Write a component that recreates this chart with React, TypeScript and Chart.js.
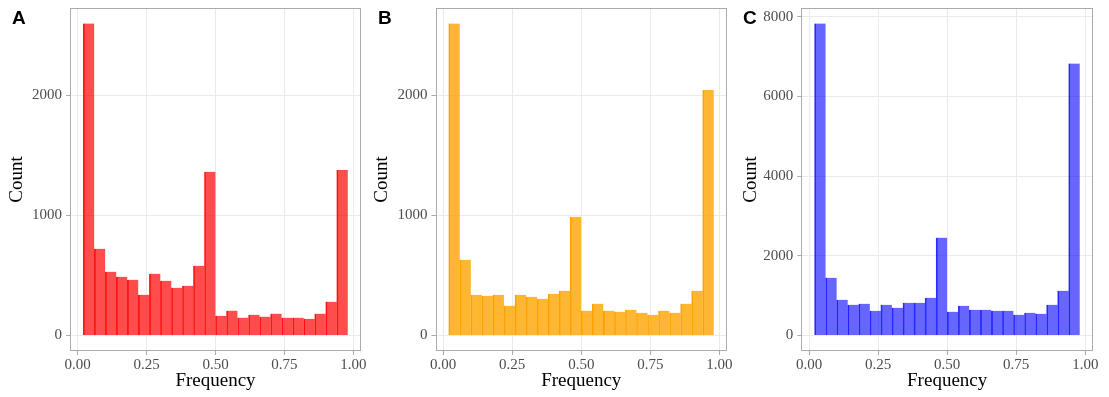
import React, { useEffect, useRef } from "react";
import { Chart, registerables } from "chart.js";

Chart.register(...registerables);

// Bin centers (histogram, bin width 0.04)
const binCenters = [
  0.04, 0.08, 0.12, 0.16, 0.2, 0.24, 0.28, 0.32, 0.36, 0.4, 0.44, 0.48,
  0.52, 0.56, 0.6, 0.64, 0.68, 0.72, 0.76, 0.8, 0.84, 0.88, 0.92, 0.96,
];

const countsA = [
  2600, 722, 531, 489, 464, 339, 514, 456, 397, 414, 581, 1364,
  164, 206, 148, 172, 156, 181, 148, 148, 139, 181, 281, 1380,
];
const countsB = [
  2600, 631, 339, 331, 339, 248, 339, 322, 306, 347, 372, 989,
  206, 264, 206, 197, 214, 189, 172, 206, 189, 264, 372, 2047,
];
const countsC = [
  7832, 1447, 894, 769, 794, 618, 769, 694, 819, 819, 945, 2455,
  593, 744, 643, 643, 618, 618, 518, 568, 543, 769, 1120, 6827,
];

const xTicks = [0, 0.25, 0.5, 0.75, 1.0];
const yTicksAB = [0, 1000, 2000];
const yTicksC = [0, 2000, 4000, 6000, 8000];

const panelLabels = ["A", "B", "C"];
const xTitle = "Frequency";
const yTitle = "Count";

const SERIF = "'Liberation Serif', 'Times New Roman', serif";

type PanelSpec = {
  label: string;
  data: number[];
  yTicks: number[];
  fill: string;
  edge: string;
  left: number;
  width: number;
  axisW: number;
  padRight: number;
  titlePad: number;
  labelLeft: number;
};

const H = 397;

const panels: PanelSpec[] = [
  {
    label: panelLabels[0], data: countsA, yTicks: yTicksAB,
    fill: "rgba(255,0,0,0.7)", edge: "rgba(255,0,0,0.9)",
    left: 0, width: 369, axisW: 70, padRight: 8, titlePad: 5.6, labelLeft: 12,
  },
  {
    label: panelLabels[1], data: countsB, yTicks: yTicksAB,
    fill: "rgba(255,165,0,0.8)", edge: "rgba(255,160,0,1)",
    left: 369, width: 369, axisW: 66.5, padRight: 11, titlePad: 1.6, labelLeft: 378,
  },
  {
    label: panelLabels[2], data: countsC, yTicks: yTicksC,
    fill: "rgba(0,0,255,0.6)", edge: "rgba(0,0,255,0.8)",
    left: 738, width: 371, axisW: 63.3, padRight: 16, titlePad: 1.6, labelLeft: 743,
  },
];

const borderPlugin = {
  id: "panelBorder",
  afterDraw(chart: any) {
    const { ctx, chartArea } = chart;
    ctx.save();
    ctx.strokeStyle = "#ababab";
    ctx.lineWidth = 1;
    const l = Math.round(chartArea.left) + 0.5;
    const t = Math.round(chartArea.top) + 0.5;
    const r = Math.round(chartArea.right) - 0.5;
    const b = Math.round(chartArea.bottom) - 0.5;
    ctx.strokeRect(l, t, r - l, b - t);
    ctx.restore();
  },
};

function Panel({ spec }: { spec: PanelSpec }) {
  const ref = useRef<HTMLCanvasElement | null>(null);
  useEffect(() => {
    if (!ref.current) return;
    const yMax = Math.max(...spec.data);
    const chart = new Chart(ref.current, {
      type: "bar",
      data: {
        datasets: [
          {
            data: binCenters.map((x, i) => ({ x, y: spec.data[i] })),
            backgroundColor: spec.fill,
            borderColor: spec.edge,
            borderWidth: { left: 1, right: 0, top: 0, bottom: 0 } as any,
            borderSkipped: false,
            barPercentage: 1,
            categoryPercentage: 1,
          } as any,
        ],
      },
      options: {
        animation: false,
        responsive: false,
        devicePixelRatio: 1,
        layout: { padding: { left: 0, top: 8, right: spec.padRight, bottom: 0 } },
        plugins: { legend: { display: false }, tooltip: { enabled: false } },
        scales: {
          x: {
            type: "linear",
            min: -0.028,
            max: 1.028,
            offset: false,
            afterBuildTicks: (s: any) => {
              s.ticks = xTicks.map((v) => ({ value: v }));
            },
            afterFit: (s: any) => {
              s.height = 46;
              s.paddingLeft = 0;
              s.paddingRight = 0;
            },
            ticks: {
              callback: (v: any) => Number(v).toFixed(2),
              font: { family: SERIF, size: 15 },
              color: "#4d4d4d",
              maxRotation: 0,
              autoSkip: false,
              padding: 1,
            },
            grid: {
              offset: false,
              color: "#ebebeb",
              lineWidth: 1,
              tickLength: 4,
              tickColor: "#ababab",
            },
            border: { display: false },
            title: {
              display: true,
              text: xTitle,
              color: "#000",
              font: { family: SERIF, size: 19 },
              padding: { top: 0, bottom: 4.7 },
            },
          },
          y: {
            type: "linear",
            min: -0.05 * yMax,
            max: 1.05 * yMax,
            afterBuildTicks: (s: any) => {
              s.ticks = spec.yTicks.map((v) => ({ value: v }));
            },
            afterFit: (s: any) => {
              s.width = spec.axisW;
              s.paddingTop = 0;
              s.paddingBottom = 0;
            },
            ticks: {
              callback: (v: any) => String(v),
              font: { family: SERIF, size: 15 },
              color: "#4d4d4d",
              padding: 4,
            },
            grid: {
              color: "#ebebeb",
              lineWidth: 1,
              tickLength: 4,
              tickColor: "#ababab",
            },
            border: { display: false },
            title: {
              display: true,
              text: yTitle,
              color: "#000",
              font: { family: SERIF, size: 19 },
              padding: { top: spec.titlePad, bottom: 0 },
            },
          },
        },
      } as any,
      plugins: [borderPlugin],
    });
    return () => chart.destroy();
  }, [spec]);

  return (
    <div style={{ position: "absolute", left: spec.left, top: 0, width: spec.width, height: H }}>
      <canvas ref={ref} width={spec.width} height={H} style={{ width: spec.width, height: H }} />
      <div
        style={{
          position: "absolute",
          left: spec.labelLeft - spec.left,
          top: 5,
          fontFamily: "'Liberation Sans', Arial, sans-serif",
          fontWeight: "bold",
          fontSize: 19,
          lineHeight: "26px",
          color: "#000",
        }}
      >
        {spec.label}
      </div>
    </div>
  );
}

export default function App() {
  useEffect(() => {
    document.body.style.margin = "0";
    document.body.style.background = "#fff";
  }, []);
  return (
    <div style={{ position: "relative", width: 1109, height: H, background: "#fff", overflow: "hidden" }}>
      {panels.map((p) => (
        <Panel key={p.label} spec={p} />
      ))}
    </div>
  );
}
